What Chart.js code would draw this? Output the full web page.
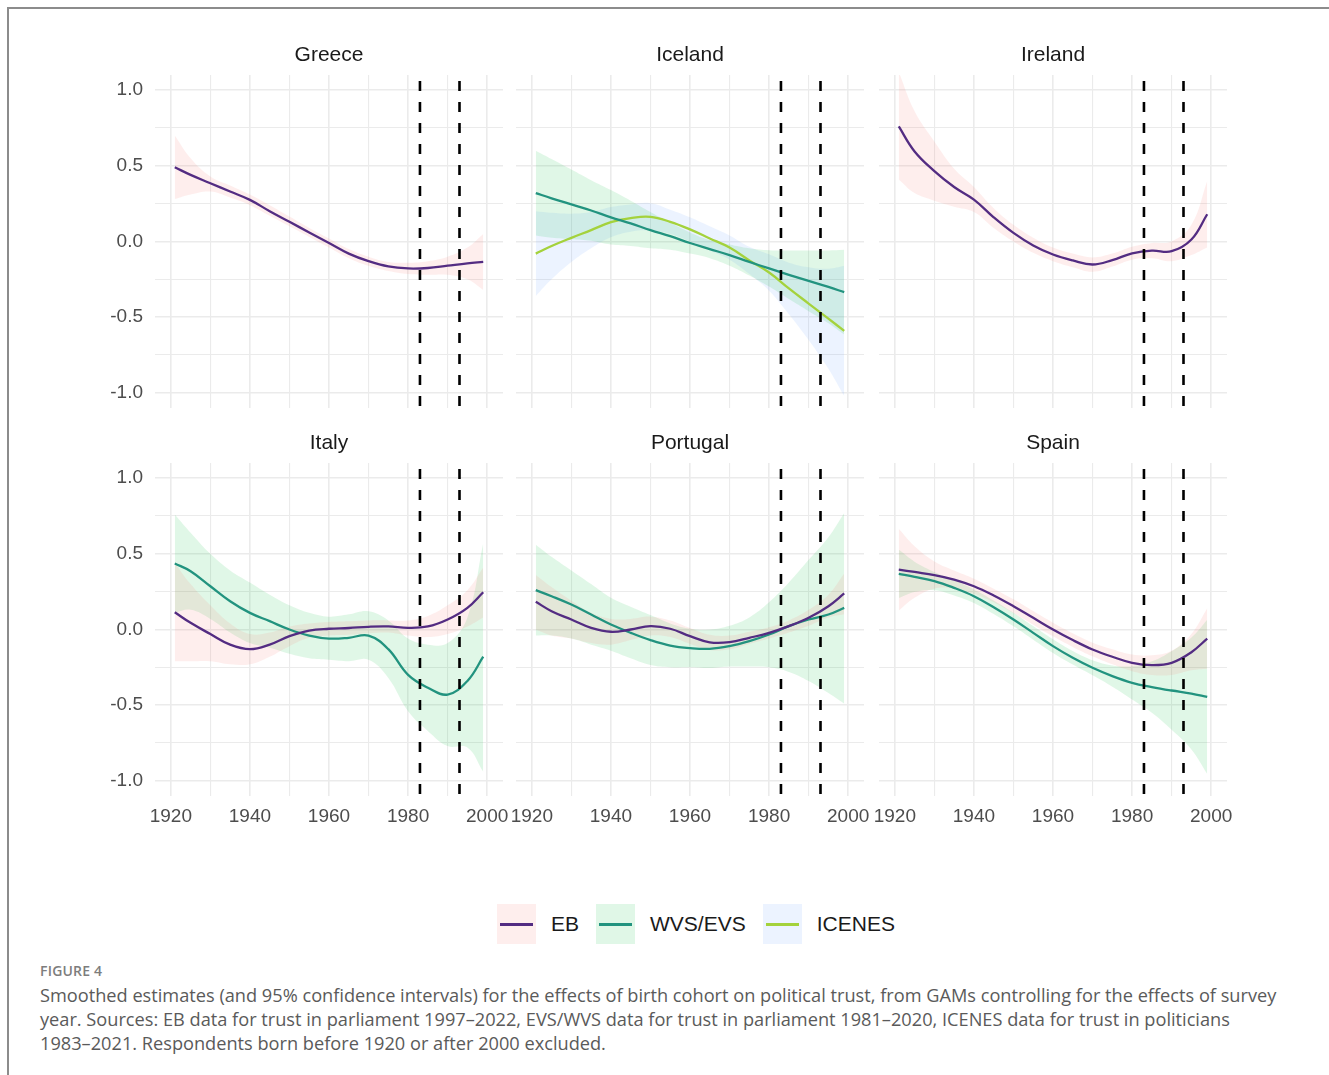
<!DOCTYPE html>
<html lang="en">
<head>
  <meta charset="UTF-8" />
  <title>Figure 4 - birth cohort and political trust</title>
  <script src="https://cdn.jsdelivr.net/npm/chart.js@4.4.0/dist/chart.umd.min.js"></script>

  <style>
    body {
      margin: 0;
      background: #fff;
      font-family: 'Liberation Sans', Arial, sans-serif;
    }

    #figure {
      position: relative;
      width: 1329px;
      height: 1075px;
      overflow: hidden;
    }

    .frame-top {
      position: absolute;
      left: 7px; top: 7px; right: 0;
      border-top: 2px solid #8c8c8c;
    }

    .frame-left {
      position: absolute;
      left: 7px; top: 7px; bottom: 0;
      border-left: 2px solid #8c8c8c;
    }

    canvas.panel {
      position: absolute;
    }

    #legend {
      position: absolute;
      left: 497px;
      top: 904px;
      display: flex;
      align-items: center;
    }

    .key {
      position: relative;
      width: 39px;
      height: 40px;
    }

    .key span {
      position: absolute;
      left: 3px; right: 3px; top: 18.5px;
      height: 3px;
    }

    .key-label {
      font-size: 21px;
      color: #1a1a1a;
      margin: 0 17px 0 15px;
    }

    #caption {
      position: absolute;
      left: 40px;
      top: 962px;
      font-family: 'Open Sans', Lato, sans-serif;
      color: #5a5a5a;
      white-space: nowrap;
    }

    #caption .fig {
      font-size: 14px;
      line-height: 18px;
      font-weight: 600;
      letter-spacing: 0.2px;
      color: #7d7d7d;
    }

    #caption .text {
      margin-top: 3px;
      font-size: 18.2px;
      line-height: 24px;
    }
  </style>
</head>
<body>

<div id="figure">
  <div class="frame-top"></div>
  <div class="frame-left"></div>

  <div id="legend"></div>

  <div id="caption">
    <div class="fig">FIGURE 4</div>
    <div class="text">
      Smoothed estimates (and 95% confidence intervals) for the effects of birth cohort on political trust, from GAMs controlling for the effects of survey<br>
      year. Sources: EB data for trust in parliament 1997–2022, EVS/WVS data for trust in parliament 1981–2020, ICENES data for trust in politicians<br>
      1983–2021. Respondents born before 1920 or after 2000 excluded.
    </div>
  </div>
</div>

<script>
const years = [1921, 1925, 1930, 1935, 1940, 1945, 1950, 1955, 1960, 1965, 1970, 1975, 1980, 1985, 1990, 1995, 1999];

const xTicks = [1920, 1930, 1940, 1950, 1960, 1970, 1980, 1990, 2000];
const yTicks = [-1, -0.75, -0.5, -0.25, 0, 0.25, 0.5, 0.75, 1];
const cutoffYears = [1983, 1993];

const sourceNames = ["EB", "WVS/EVS", "ICENES"];
const lineColors = ["#532c82", "#22937f", "#a4d23c"];
const bandColors = ["rgba(248,118,109,0.12)", "rgba(0,186,56,0.12)", "rgba(97,156,255,0.12)"];

// Greece
const greeceEB   = [0.49, 0.44, 0.385, 0.33, 0.275, 0.20, 0.13, 0.06, -0.01, -0.08, -0.13, -0.165, -0.178, -0.175, -0.16, -0.145, -0.135];
const greeceEBHi = [0.70, 0.55, 0.43, 0.37, 0.31, 0.24, 0.165, 0.09, 0.02, -0.05, -0.10, -0.135, -0.14, -0.13, -0.10, -0.04, 0.05];
const greeceEBLo = [0.28, 0.31, 0.33, 0.29, 0.24, 0.17, 0.10, 0.03, -0.04, -0.11, -0.16, -0.195, -0.215, -0.22, -0.22, -0.25, -0.32];

// Iceland
const icelandWVS   = [0.32, 0.285, 0.245, 0.205, 0.16, 0.12, 0.075, 0.035, -0.01, -0.05, -0.09, -0.135, -0.178, -0.22, -0.26, -0.30, -0.335];
const icelandWVSHi = [0.60, 0.545, 0.475, 0.405, 0.34, 0.27, 0.195, 0.125, 0.06, 0.01, -0.02, -0.045, -0.058, -0.06, -0.06, -0.06, -0.055];
const icelandWVSLo = [0.04, 0.025, 0.015, 0.005, -0.02, -0.03, -0.045, -0.055, -0.08, -0.11, -0.16, -0.225, -0.298, -0.38, -0.46, -0.54, -0.615];
const icelandICE   = [-0.08, -0.03, 0.024, 0.075, 0.128, 0.155, 0.163, 0.13, 0.08, 0.02, -0.04, -0.125, -0.205, -0.31, -0.41, -0.51, -0.59];
const icelandICEHi = [0.20, 0.19, 0.184, 0.195, 0.228, 0.245, 0.253, 0.21, 0.16, 0.10, 0.04, -0.035, -0.085, -0.14, -0.17, -0.18, -0.16];
const icelandICELo = [-0.36, -0.25, -0.136, -0.045, 0.028, 0.065, 0.073, 0.05, 0.0, -0.06, -0.12, -0.215, -0.325, -0.48, -0.65, -0.84, -1.02];

// Ireland
const irelandEB   = [0.76, 0.595, 0.465, 0.36, 0.277, 0.16, 0.057, -0.026, -0.086, -0.125, -0.152, -0.123, -0.078, -0.06, -0.064, 0.013, 0.18];
const irelandEBHi = [1.12, 0.86, 0.66, 0.48, 0.36, 0.22, 0.11, 0.025, -0.04, -0.08, -0.105, -0.08, -0.035, -0.01, 0.0, 0.11, 0.40];
const irelandEBLo = [0.41, 0.32, 0.27, 0.23, 0.195, 0.09, 0.0, -0.075, -0.13, -0.17, -0.20, -0.165, -0.12, -0.11, -0.13, -0.09, -0.04];

// Italy
const italyEB    = [0.114, 0.044, -0.03, -0.10, -0.13, -0.10, -0.044, -0.007, 0.005, 0.01, 0.018, 0.02, 0.011, 0.02, 0.066, 0.143, 0.246];
const italyEBHi  = [0.44, 0.30, 0.16, 0.04, -0.03, -0.02, 0.02, 0.04, 0.05, 0.055, 0.06, 0.06, 0.06, 0.09, 0.16, 0.26, 0.41];
const italyEBLo  = [-0.21, -0.21, -0.21, -0.23, -0.23, -0.18, -0.11, -0.055, -0.04, -0.035, -0.025, -0.02, -0.04, -0.05, -0.03, 0.02, 0.08];
const italyWVS   = [0.436, 0.385, 0.286, 0.187, 0.11, 0.055, 0.0, -0.04, -0.06, -0.055, -0.04, -0.13, -0.30, -0.385, -0.43, -0.34, -0.18];
const italyWVSHi = [0.76, 0.64, 0.50, 0.39, 0.31, 0.23, 0.16, 0.11, 0.085, 0.10, 0.12, 0.06, -0.06, -0.10, -0.09, 0.08, 0.57];
const italyWVSLo = [0.11, 0.13, 0.07, -0.02, -0.09, -0.12, -0.16, -0.19, -0.20, -0.21, -0.20, -0.32, -0.54, -0.67, -0.77, -0.78, -0.94];

// Portugal
const portugalEB    = [0.183, 0.121, 0.066, 0.011, -0.015, 0.0, 0.022, 0.005, -0.044, -0.085, -0.084, -0.055, -0.022, 0.022, 0.077, 0.154, 0.238];
const portugalEBHi  = [0.36, 0.28, 0.19, 0.11, 0.07, 0.07, 0.085, 0.06, 0.01, -0.035, -0.04, -0.015, 0.015, 0.06, 0.13, 0.23, 0.37];
const portugalEBLo  = [0.0, -0.04, -0.06, -0.09, -0.10, -0.07, -0.04, -0.05, -0.095, -0.135, -0.13, -0.095, -0.06, -0.02, 0.025, 0.08, 0.10];
const portugalWVS   = [0.26, 0.22, 0.165, 0.099, 0.033, -0.022, -0.07, -0.106, -0.123, -0.128, -0.11, -0.077, -0.033, 0.022, 0.066, 0.099, 0.143];
const portugalWVSHi = [0.56, 0.48, 0.39, 0.30, 0.21, 0.15, 0.095, 0.04, 0.005, 0.0, 0.025, 0.08, 0.18, 0.31, 0.46, 0.61, 0.77];
const portugalWVSLo = [-0.04, -0.04, -0.06, -0.10, -0.14, -0.19, -0.235, -0.25, -0.25, -0.255, -0.245, -0.245, -0.25, -0.28, -0.34, -0.42, -0.49];

// Spain
const spainEB    = [0.396, 0.38, 0.36, 0.33, 0.286, 0.225, 0.154, 0.077, 0.0, -0.07, -0.132, -0.18, -0.22, -0.235, -0.22, -0.15, -0.06];
const spainEBHi  = [0.666, 0.55, 0.45, 0.39, 0.336, 0.27, 0.20, 0.122, 0.045, -0.025, -0.087, -0.13, -0.165, -0.17, -0.14, -0.03, 0.14];
const spainEBLo  = [0.126, 0.21, 0.27, 0.27, 0.236, 0.18, 0.109, 0.032, -0.045, -0.115, -0.177, -0.23, -0.275, -0.30, -0.30, -0.27, -0.26];
const spainWVS   = [0.368, 0.348, 0.32, 0.275, 0.22, 0.147, 0.066, -0.022, -0.11, -0.187, -0.253, -0.308, -0.352, -0.38, -0.403, -0.423, -0.445];
const spainWVSHi = [0.528, 0.448, 0.38, 0.325, 0.265, 0.192, 0.111, 0.023, -0.065, -0.142, -0.203, -0.238, -0.242, -0.21, -0.143, -0.053, 0.065];
const spainWVSLo = [0.208, 0.248, 0.26, 0.225, 0.175, 0.102, 0.021, -0.067, -0.155, -0.232, -0.303, -0.378, -0.462, -0.55, -0.663, -0.793, -0.955];

const panels = [
  { name: "Greece",   col: 0, row: 0, series: [{ src: 0, fit: greeceEB, hi: greeceEBHi, lo: greeceEBLo }] },
  { name: "Iceland",  col: 1, row: 0, series: [{ src: 1, fit: icelandWVS, hi: icelandWVSHi, lo: icelandWVSLo },
                                               { src: 2, fit: icelandICE, hi: icelandICEHi, lo: icelandICELo }] },
  { name: "Ireland",  col: 2, row: 0, series: [{ src: 0, fit: irelandEB, hi: irelandEBHi, lo: irelandEBLo }] },
  { name: "Italy",    col: 0, row: 1, series: [{ src: 0, fit: italyEB, hi: italyEBHi, lo: italyEBLo },
                                               { src: 1, fit: italyWVS, hi: italyWVSHi, lo: italyWVSLo }] },
  { name: "Portugal", col: 1, row: 1, series: [{ src: 0, fit: portugalEB, hi: portugalEBHi, lo: portugalEBLo },
                                               { src: 1, fit: portugalWVS, hi: portugalWVSHi, lo: portugalWVSLo }] },
  { name: "Spain",    col: 2, row: 1, series: [{ src: 0, fit: spainEB, hi: spainEBHi, lo: spainEBLo },
                                               { src: 1, fit: spainWVS, hi: spainWVSHi, lo: spainWVSLo }] }
];

// panel boxes (plot area) in page pixels
const colLeft = [155, 516, 879];
const rowTop = [75, 463];
const plotW = 348, plotH = 333;
const axisW = 70, axisH = 40, titleH = 32;
const xMin = 1916, xMax = 2004, yMin = -1.1, yMax = 1.1;

const tickFont = { family: "'Liberation Sans', Arial, sans-serif", size: 19 };
const isMajorY = v => Math.abs(v * 2 - Math.round(v * 2)) < 1e-9;

const pts = arr => years.map((x, i) => ({ x, y: arr[i] }));

function buildDatasets(p) {
  const ds = [];
  cutoffYears.forEach(yr => {
    ds.push({
      data: [{ x: yr, y: yMax }, { x: yr, y: yMin }],
      borderColor: "#000", borderWidth: 2.6,
      borderDash: [10, 11], borderDashOffset: 15,
      pointRadius: 0, fill: false, order: 0
    });
  });
  p.series.forEach(s => {
    ds.push({
      data: pts(s.fit),
      borderColor: lineColors[s.src], borderWidth: 2.3,
      pointRadius: 0, tension: 0.4, fill: false, order: 1
    });
  });
  p.series.forEach(s => {
    ds.push({
      data: pts(s.hi),
      borderWidth: 0, borderColor: "rgba(0,0,0,0)",
      backgroundColor: bandColors[s.src],
      pointRadius: 0, tension: 0.4, fill: "+1", order: 2
    });
    ds.push({
      data: pts(s.lo),
      borderWidth: 0, borderColor: "rgba(0,0,0,0)",
      pointRadius: 0, tension: 0.4, fill: false, order: 2
    });
  });
  return ds;
}

const figure = document.getElementById("figure");

panels.forEach(p => {
  const canvas = document.createElement("canvas");
  canvas.className = "panel";
  canvas.width = plotW + 2 * axisW;
  canvas.height = titleH + plotH + axisH;
  canvas.style.left = (colLeft[p.col] - axisW) + "px";
  canvas.style.top = (rowTop[p.row] - titleH) + "px";
  figure.appendChild(canvas);

  new Chart(canvas, {
    type: "line",
    data: { datasets: buildDatasets(p) },
    options: {
      responsive: false,
      animation: false,
      layout: { padding: { left: 0, right: axisW, top: 0, bottom: 0 } },
      plugins: {
        legend: { display: false },
        tooltip: { enabled: false },
        title: {
          display: true,
          fullSize: false,   // centre over the plot area only
          text: p.name,
          color: "#1a1a1a",
          font: { family: "'Liberation Sans', Arial, sans-serif", size: 21, weight: "normal", lineHeight: 1.2 },
          padding: { top: 0, bottom: 6.8 }
        }
      },
      scales: {
        x: {
          type: "linear",
          min: xMin, max: xMax,
          afterBuildTicks: s => { s.ticks = xTicks.map(v => ({ value: v })); },
          afterFit: s => { s.height = axisH; },
          border: { display: false },
          grid: {
            drawTicks: false,
            color: "#ebebeb",
            lineWidth: c => (c.tick && c.tick.value % 20 === 0 ? 1.6 : 1.1)
          },
          ticks: {
            display: p.row === 1,
            autoSkip: false, maxRotation: 0,
            padding: 9,
            color: "#4d4d4d",
            font: tickFont,
            callback: v => (v % 20 === 0 ? String(v) : "")
          }
        },
        y: {
          min: yMin, max: yMax,
          afterBuildTicks: s => { s.ticks = yTicks.map(v => ({ value: v })); },
          afterFit: s => { s.width = axisW; },
          border: { display: false },
          grid: {
            drawTicks: false,
            color: "#ebebeb",
            lineWidth: c => (c.tick && isMajorY(c.tick.value) ? 1.6 : 1.1)
          },
          ticks: {
            display: p.col === 0,
            autoSkip: false,
            padding: 12,
            color: "#4d4d4d",
            font: tickFont,
            callback: v => (isMajorY(v) ? v.toFixed(1) : "")
          }
        }
      }
    }
  });
});

// legend: one key box per source
const legend = document.getElementById("legend");
sourceNames.forEach((name, i) => {
  const key = document.createElement("div");
  key.className = "key";
  key.style.background = bandColors[i];
  const line = document.createElement("span");
  line.style.background = lineColors[i];
  key.appendChild(line);
  const lab = document.createElement("div");
  lab.className = "key-label";
  lab.textContent = name;
  legend.appendChild(key);
  legend.appendChild(lab);
});
</script>
</body>
</html>
